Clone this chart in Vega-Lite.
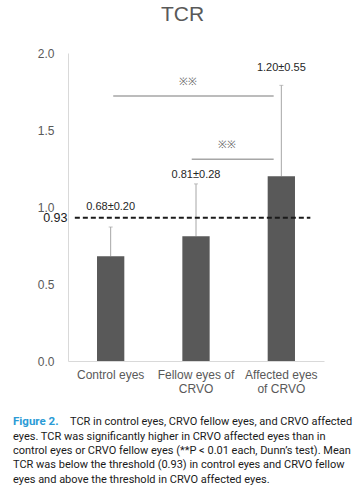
{
  "$schema": "https://vega.github.io/schema/vega-lite/v6.json",
  "padding": {"left": 13, "top": 4, "right": 12, "bottom": 5},
  "background": "white",
  "title": {"text": "TCR", "fontSize": 21, "font": "Liberation Sans", "fontWeight": "normal", "color": "#595959", "anchor": "middle", "offset": 22},
  "config": {"view": {"stroke": null}, "font": "Liberation Sans"},
  "spacing": 21,
  "datasets": {
    "groups": [
      {"group": "Control eyes", "mean": 0.68, "upper": 0.87, "label": "0.68±0.20", "label_at": 1.0},
      {"group": "Fellow eyes of CRVO", "mean": 0.81, "upper": 1.15, "label": "0.81±0.28", "label_at": 1.21},
      {"group": "Affected eyes of CRVO", "mean": 1.2, "upper": 1.79, "label": "1.20±0.55", "label_at": 1.9}
    ],
    "brackets": [
      {"from": 0.53, "to": 2.41, "level": 1.72, "text_at": 1.41, "text": "※※"},
      {"from": 1.45, "to": 2.41, "level": 1.31, "text_at": 1.86, "text": "※※"}
    ],
    "threshold": [{"value": 0.93, "from": 0.08, "to": 2.84}],
    "caption": [
      {"line": 1, "part": "lead", "text": "Figure 2."},
      {"line": 1, "part": "first", "text": "TCR in control eyes, CRVO fellow eyes, and CRVO affected"},
      {"line": 2, "part": "body", "text": "eyes. TCR was significantly higher in CRVO affected eyes than in"},
      {"line": 3, "part": "body", "text": "control eyes or CRVO fellow eyes (**P < 0.01 each, Dunn’s test). Mean"},
      {"line": 4, "part": "body", "text": "TCR was below the threshold (0.93) in control eyes and CRVO fellow"},
      {"line": 5, "part": "body", "text": "eyes and above the threshold in CRVO affected eyes."}
    ]
  },
  "vconcat": [
    {
      "width": 256,
      "height": 308,
      "layer": [
        {
          "data": {"name": "groups"},
          "encoding": {
            "x": {
              "field": "group", "type": "nominal", "sort": null,
              "scale": {"paddingInner": 0.68, "paddingOuter": 0.34},
              "axis": {
                "title": null, "labelAngle": 0, "ticks": false, "domainColor": "#d9d9d9",
                "labelColor": "#595959", "labelFontSize": 12, "labelPadding": 8, "labelLineHeight": 14,
                "labelExpr": "datum.label == 'Fellow eyes of CRVO' ? ['Fellow eyes of', 'CRVO'] : datum.label == 'Affected eyes of CRVO' ? ['Affected eyes', 'of CRVO'] : datum.label"
              }
            }
          },
          "layer": [
            {
              "mark": {"type": "rule", "color": "#a6a6a6", "strokeWidth": 1},
              "encoding": {
                "y": {
                  "field": "mean", "type": "quantitative", "scale": {"domain": [0, 2]},
                  "axis": {
                    "title": null, "values": [0, 0.5, 0.93, 1, 1.5, 2], "grid": false, "ticks": false,
                    "domainColor": "#d9d9d9", "labelOverlap": false,
                    "labelExpr": "datum.value == 0.93 ? '0.93' : format(datum.value, '.1f')",
                    "labelColor": {"condition": {"test": "datum.value == 0.93", "value": "#1a1a1a"}, "value": "#595959"},
                    "labelFontSize": {"condition": {"test": "datum.value == 0.93", "value": 12.5}, "value": 12},
                    "labelPadding": {"condition": {"test": "datum.value == 0.93", "value": 1}, "value": 14}
                  }
                },
                "y2": {"field": "upper"}
              }
            },
            {
              "mark": {"type": "tick", "color": "#a6a6a6", "size": 4, "thickness": 1},
              "encoding": {"y": {"field": "upper", "type": "quantitative", "title": null}}
            },
            {
              "mark": {"type": "bar", "color": "#595959"},
              "encoding": {"y": {"field": "mean", "type": "quantitative", "title": null}}
            },
            {
              "mark": {"type": "text", "fontSize": 11, "color": "#262626"},
              "encoding": {
                "y": {"field": "label_at", "type": "quantitative", "title": null},
                "text": {"field": "label"}
              }
            }
          ]
        },
        {
          "layer": [
            {
              "data": {"name": "brackets"},
              "mark": {"type": "rule", "color": "#a6a6a6", "strokeWidth": 1.5},
              "encoding": {
                "x": {"field": "from", "type": "quantitative", "scale": {"domain": [0, 3]}, "axis": null},
                "x2": {"field": "to"},
                "y": {"field": "level", "type": "quantitative", "title": null}
              }
            },
            {
              "data": {"name": "brackets"},
              "mark": {"type": "text", "fontSize": 10.5, "color": "#6b6b6b", "dy": -14},
              "encoding": {
                "x": {"field": "text_at", "type": "quantitative", "scale": {"domain": [0, 3]}, "axis": null},
                "y": {"field": "level", "type": "quantitative", "title": null},
                "text": {"field": "text"}
              }
            },
            {
              "data": {"name": "threshold"},
              "mark": {"type": "rule", "color": "#1a1a1a", "strokeWidth": 2, "strokeDash": [5, 3]},
              "encoding": {
                "x": {"field": "from", "type": "quantitative", "scale": {"domain": [0, 3]}, "axis": null},
                "x2": {"field": "to"},
                "y": {"field": "value", "type": "quantitative", "title": null}
              }
            }
          ]
        }
      ],
      "resolve": {"scale": {"x": "independent"}}
    },
    {
      "width": 278,
      "height": 72,
      "data": {"name": "caption"},
      "encoding": {
        "y": {"field": "line", "type": "ordinal", "axis": null, "scale": {"type": "point", "padding": 0.5}},
        "text": {"field": "text"}
      },
      "layer": [
        {
          "transform": [{"filter": "datum.part == 'lead'"}],
          "mark": {"type": "text", "align": "left", "baseline": "middle", "x": 0, "dx": -55, "font": "Roboto", "fontSize": 11.5, "fontWeight": "bold", "color": "#2b9bd6"}
        },
        {
          "transform": [{"filter": "datum.part == 'first'"}],
          "mark": {"type": "text", "align": "left", "baseline": "middle", "x": 0, "dx": 2, "font": "Roboto", "fontSize": 11, "color": "#1a1a1a"}
        },
        {
          "transform": [{"filter": "datum.part == 'body'"}],
          "mark": {"type": "text", "align": "left", "baseline": "middle", "x": 0, "dx": -55, "font": "Roboto", "fontSize": 11, "color": "#1a1a1a"}
        }
      ]
    }
  ]
}
